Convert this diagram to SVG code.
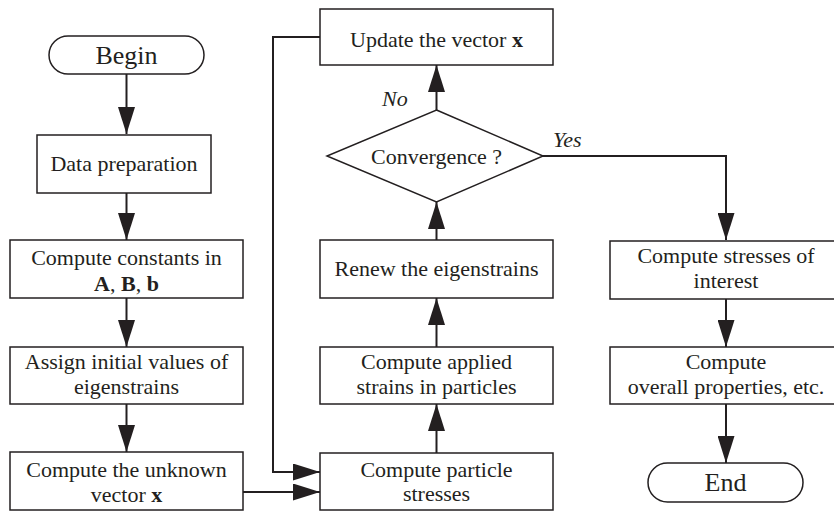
<svg xmlns="http://www.w3.org/2000/svg" width="834" height="513" viewBox="0 0 834 513">
<style>
  .box { fill: #fff; stroke: #231f20; stroke-width: 1.5; }
  .t { font-family: "Liberation Serif", "Times New Roman", serif; font-size: 22px; fill: #231f20; text-anchor: middle; }
  .term { font-size: 26px; }
  .lab { font-family: "Liberation Serif", "Times New Roman", serif; font-size: 22px; font-style: italic; fill: #231f20; }
  .c { fill: none; stroke: #231f20; stroke-width: 2; }
  .b { font-weight: bold; }
</style>
<defs>
  <marker id="ah" markerUnits="userSpaceOnUse" markerWidth="27" markerHeight="17" refX="27" refY="8.5" orient="auto">
    <path d="M0,0 L27,8.5 L0,17 z" fill="#231f20"/>
  </marker>
</defs>
<rect width="834" height="513" fill="#fff"/>
<g id="connectors">
  <line class="c" x1="126.5" y1="74" x2="126.5" y2="134" marker-end="url(#ah)"/>
  <line class="c" x1="126.5" y1="193" x2="126.5" y2="240" marker-end="url(#ah)"/>
  <line class="c" x1="126.5" y1="298" x2="126.5" y2="347" marker-end="url(#ah)"/>
  <line class="c" x1="126.5" y1="404" x2="126.5" y2="452" marker-end="url(#ah)"/>
  <line class="c" x1="243" y1="492" x2="320" y2="492" marker-end="url(#ah)"/>
  <polyline class="c" points="320,37 273,37 273,472 320,472" marker-end="url(#ah)"/>
  <line class="c" x1="436.5" y1="453" x2="436.5" y2="404" marker-end="url(#ah)"/>
  <line class="c" x1="436.5" y1="347" x2="436.5" y2="298" marker-end="url(#ah)"/>
  <line class="c" x1="436.5" y1="240" x2="436.5" y2="202" marker-end="url(#ah)"/>
  <line class="c" x1="436.5" y1="110" x2="436.5" y2="65" marker-end="url(#ah)"/>
  <polyline class="c" points="543,156 726,156 726,240" marker-end="url(#ah)"/>
  <line class="c" x1="726" y1="299" x2="726" y2="347" marker-end="url(#ah)"/>
  <line class="c" x1="726" y1="404" x2="726" y2="463" marker-end="url(#ah)"/>
  <text class="lab" x="382" y="106">No</text>
  <text class="lab" x="553" y="147">Yes</text>
</g>
<g id="begin">
  <rect class="box" x="49" y="36" width="155" height="38" rx="19" ry="19"/>
  <text class="t term" x="126.5" y="64">Begin</text>
</g>
<g id="data-prep">
  <rect class="box" x="37" y="135" width="174" height="58"/>
  <text class="t" x="124" y="171">Data preparation</text>
</g>
<g id="constants">
  <rect class="box" x="10" y="240" width="233" height="58"/>
  <text class="t" x="126.5" y="265">Compute constants in</text>
  <text class="t" x="126.5" y="291"><tspan class="b">A</tspan>, <tspan class="b">B</tspan>, <tspan class="b">b</tspan></text>
</g>
<g id="assign">
  <rect class="box" x="10" y="347" width="233" height="57"/>
  <text class="t" x="126.5" y="369">Assign initial values of</text>
  <text class="t" x="126.5" y="394">eigenstrains</text>
</g>
<g id="unknown">
  <rect class="box" x="10" y="452" width="233" height="58"/>
  <text class="t" x="126.5" y="477">Compute the unknown</text>
  <text class="t" x="126.5" y="502">vector <tspan class="b">x</tspan></text>
</g>
<g id="particle-stresses">
  <rect class="box" x="320" y="453" width="233" height="57"/>
  <text class="t" x="436.5" y="477">Compute particle</text>
  <text class="t" x="436.5" y="501">stresses</text>
</g>
<g id="applied-strains">
  <rect class="box" x="320" y="347" width="233" height="57"/>
  <text class="t" x="436.5" y="369">Compute applied</text>
  <text class="t" x="436.5" y="394">strains in particles</text>
</g>
<g id="renew">
  <rect class="box" x="320" y="240" width="233" height="58"/>
  <text class="t" x="436.5" y="276">Renew the eigenstrains</text>
</g>
<g id="convergence">
  <polygon class="box" points="436.5,110 543,156 436.5,202 327,156"/>
  <text class="t" x="436.5" y="164">Convergence ?</text>
</g>
<g id="update">
  <rect class="box" x="320" y="9" width="233" height="56"/>
  <text class="t" x="436.5" y="47">Update the vector <tspan class="b">x</tspan></text>
</g>
<g id="stresses-interest">
  <rect class="box" x="610" y="241" width="234" height="58"/>
  <text class="t" x="726" y="263">Compute stresses of</text>
  <text class="t" x="726" y="288">interest</text>
</g>
<g id="overall">
  <rect class="box" x="610" y="347" width="234" height="57"/>
  <text class="t" x="726" y="369">Compute</text>
  <text class="t" x="726" y="394">overall properties, etc.</text>
</g>
<g id="end">
  <rect class="box" x="648" y="463" width="155" height="39" rx="19.5" ry="19.5"/>
  <text class="t term" x="725.5" y="491">End</text>
</g>
</svg>
